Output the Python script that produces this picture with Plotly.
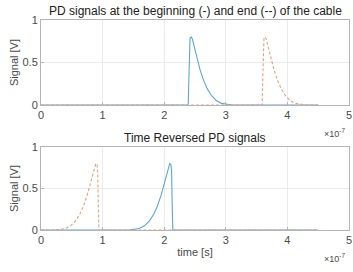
import plotly.graph_objects as go

# time in units of 1e-7 s
t_begin = [0.0, 2.39, 2.40, 2.41, 2.42, 2.44, 2.46, 2.49, 2.53, 2.58, 2.64, 2.70, 2.77, 2.85, 2.93, 3.00, 3.10, 4.50]
v_begin = [0.0, 0.0, 0.30, 0.70, 0.79, 0.80, 0.77, 0.68, 0.56, 0.42, 0.29, 0.19, 0.11, 0.05, 0.02, 0.01, 0.0, 0.0]

t_end = [0.0, 3.59, 3.60, 3.61, 3.62, 3.64, 3.66, 3.69, 3.73, 3.78, 3.84, 3.90, 3.97, 4.05, 4.13, 4.20, 4.30, 4.50]
v_end = [0.0, 0.0, 0.30, 0.70, 0.79, 0.80, 0.77, 0.68, 0.56, 0.42, 0.29, 0.19, 0.11, 0.05, 0.02, 0.01, 0.0, 0.0]

t_rev_begin = [0.0, 1.43, 1.53, 1.60, 1.68, 1.76, 1.83, 1.89, 1.95, 2.00, 2.04, 2.07, 2.09, 2.11, 2.12, 2.13, 2.14, 4.50]
v_rev_begin = [0.0, 0.0, 0.01, 0.02, 0.05, 0.11, 0.19, 0.29, 0.42, 0.56, 0.68, 0.77, 0.80, 0.79, 0.70, 0.30, 0.0, 0.0]

t_rev_end = [0.0, 0.23, 0.33, 0.40, 0.48, 0.56, 0.63, 0.69, 0.75, 0.80, 0.84, 0.87, 0.89, 0.91, 0.92, 0.93, 0.94, 4.50]
v_rev_end = [0.0, 0.0, 0.01, 0.02, 0.05, 0.11, 0.19, 0.29, 0.42, 0.56, 0.68, 0.77, 0.80, 0.79, 0.70, 0.30, 0.0, 0.0]

x_ticks = [0, 1, 2, 3, 4, 5]
y_ticks = [0, 0.5, 1]
y_tick_labels = ["0", "0.5", "1"]

blue = "#5aa7d6"
orange = "#e8a07a"
FONT = "Liberation Sans, Arial, sans-serif"

fig = go.Figure()
fig.add_trace(go.Scatter(x=t_begin, y=v_begin, mode="lines", line=dict(color=blue, width=1.1), xaxis="x", yaxis="y"))
fig.add_trace(go.Scatter(x=t_end, y=v_end, mode="lines", line=dict(color=orange, width=1.1, dash="3px,2px"), xaxis="x", yaxis="y"))
fig.add_trace(go.Scatter(x=t_rev_begin, y=v_rev_begin, mode="lines", line=dict(color=blue, width=1.1), xaxis="x2", yaxis="y2"))
fig.add_trace(go.Scatter(x=t_rev_end, y=v_rev_end, mode="lines", line=dict(color=orange, width=1.1, dash="3px,2px"), xaxis="x2", yaxis="y2"))

ax = dict(showline=True, mirror=True, linecolor="#b4b4b4", linewidth=1, showgrid=True, gridcolor="#ebebeb",
          ticks="inside", ticklen=3, tickcolor="#b4b4b4", zeroline=False, automargin=False,
          tickfont=dict(family=FONT, size=11, color="#4a4a4a"))
title_font = dict(family=FONT, size=11, color="#4a4a4a")

fig.update_layout(
    width=353, height=272,
    margin=dict(l=41, r=4, t=20, b=42),
    showlegend=False,
    plot_bgcolor="white", paper_bgcolor="white",
    xaxis=dict(domain=[0, 1], range=[0, 5], tickvals=x_ticks, anchor="y", **ax),
    yaxis=dict(domain=[0.595, 1], range=[0, 1], tickvals=y_ticks, ticktext=y_tick_labels, anchor="x",
               title=dict(text="Signal [V]", standoff=1, font=title_font), **ax),
    xaxis2=dict(domain=[0, 1], range=[0, 5], tickvals=x_ticks, anchor="y2",
                title=dict(text="time [s]", standoff=3, font=title_font), **ax),
    yaxis2=dict(domain=[0, 0.395], range=[0, 1], tickvals=y_ticks, ticktext=y_tick_labels, anchor="x2",
                title=dict(text="Signal [V]", standoff=1, font=title_font), **ax),
    annotations=[
        dict(text="PD signals at the beginning (-) and end (--) of the cable", xref="paper", yref="paper",
             x=0.5, y=1.0, xanchor="center", yanchor="bottom", yshift=0, showarrow=False,
             font=dict(family=FONT, size=12, color="#202020")),
        dict(text="Time Reversed PD signals", xref="paper", yref="paper",
             x=0.5, y=0.395, xanchor="center", yanchor="bottom", showarrow=False,
             font=dict(family=FONT, size=12, color="#202020")),
        dict(text="×10<sup>-7</sup>", xref="paper", yref="paper", x=0.995, y=0.595, xanchor="right", yanchor="top",
             yshift=-20, showarrow=False, font=dict(family=FONT, size=9, color="#4a4a4a")),
        dict(text="×10<sup>-7</sup>", xref="paper", yref="paper", x=0.995, y=0.0, xanchor="right", yanchor="top",
             yshift=-20, showarrow=False, font=dict(family=FONT, size=9, color="#4a4a4a")),
    ],
)

fig.write_html("out.html", config={"displayModeBar": False},
               post_script="document.body.style.margin='0';document.body.style.padding='0';")
